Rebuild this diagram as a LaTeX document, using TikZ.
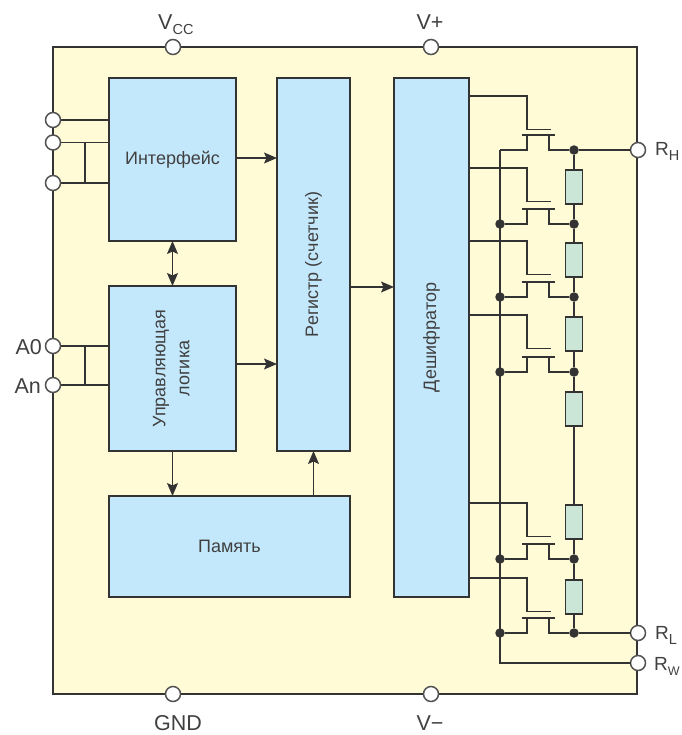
\documentclass[tikz,border=0pt]{standalone}
\usepackage{fontspec}
\setmainfont{Liberation Sans}
\usetikzlibrary{arrows.meta}
\definecolor{bodyc}{HTML}{FFFBD6}
\definecolor{blockc}{HTML}{C4E8FB}
\definecolor{resc}{HTML}{CBE5D6}
\definecolor{linec}{HTML}{333333}
\definecolor{textc}{HTML}{404040}
\tikzset{
  wire/.style={draw=linec,line width=1.3pt},
  flow/.style={wire,-{Stealth[length=13pt,width=11pt,inset=2.5pt]}},
  dflow/.style={wire,{Stealth[length=13pt,width=11pt,inset=2.5pt]}-{Stealth[length=13pt,width=11pt,inset=2.5pt]}},
  block/.style={draw=linec,line width=1.5pt,fill=blockc,inner sep=0pt,outer sep=0pt,font=\fontsize{18}{24}\selectfont,text=textc,align=center},
  pin/.style={circle,draw=linec!85,line width=1.5pt,fill=white,minimum size=15pt,inner sep=0pt,outer sep=0pt},
  junc/.style={circle,fill=linec,minimum size=9.5pt,inner sep=0pt,outer sep=0pt},
  res/.style={draw=linec,line width=1.4pt,fill=resc,minimum width=17.5pt,minimum height=34pt,inner sep=0pt,outer sep=0pt},
  lbl/.style={font=\fontsize{21.5}{24}\selectfont,text=textc,inner sep=0pt},
  rlbl/.style={font=\fontsize{19}{22}\selectfont,text=textc,inner sep=0pt},
}
\newcommand{\Sb}[2][14.5]{\raisebox{-5pt}{\fontsize{#1}{16}\selectfont #2}}
\begin{document}
\begin{tikzpicture}[x=1pt,y=-1pt]
\useasboundingbox (0,0) rectangle (681,735);
\node[draw=linec,line width=1.5pt,fill=bodyc,minimum width=584pt,minimum height=647pt,inner sep=0pt,outer sep=0pt] (chip) at (345,370.5) {};
% blocks
\node[block,minimum width=127pt,minimum height=163pt] (iface) at (172.5,159.5) {Интерфейс};
\node[block,minimum width=127pt,minimum height=165pt] (logic) at (172.5,368.5) {\rotatebox{90}{\begin{tabular}{@{}c@{}}Управляющая\\логика\end{tabular}}};
\node[block,minimum width=73pt,minimum height=373pt] (reg) at (313.5,264.5) {\rotatebox{90}{Регистр (счетчик)}};
\node[block,minimum width=75pt,minimum height=519pt] (dec) at (431.5,337.5) {\rotatebox{90}{Дешифратор}};
\node[block,minimum width=241pt,minimum height=101pt] (mem) at (229.5,546.5) {Память};
% block arrows
\draw[flow] (iface.east |- 0,158) -- (reg.west |- 0,158);
\draw[flow] (logic.east |- 0,364) -- (reg.west |- 0,364);
\draw[flow] (reg.east |- 0,287) -- (dec.west |- 0,287);
\draw[dflow] (iface.south) -- (logic.north);
\draw[flow] (logic.south) -- (logic.south |- mem.north);
\draw[flow] (reg.south |- mem.north) -- (reg.south);
% left pins
\coordinate (jA) at (85,142.5);
\coordinate (jB) at (85,183);
\coordinate (jC) at (85,346);
\coordinate (jD) at (85,385);
\draw[wire] (53,120) -- (iface.west |- 0,120);
\draw[wire] (53,142.5) -- (iface.west |- 0,142.5);
\draw[wire] (53,183) -- (iface.west |- 0,183);
\draw[wire] (jA) -- (jB);
\draw[wire] (53,346) -- (logic.west |- 0,346);
\draw[wire] (53,385) -- (logic.west |- 0,385);
\draw[wire] (jC) -- (jD);
\node[pin] (p1) at (53,120) {};
\node[pin] (p2) at (53,142.5) {};
\node[pin] (p3) at (53,183) {};
\node[pin] (pA0) at (53,346) {};
\node[pin] (pAn) at (53,385) {};
\node[lbl,anchor=base east] (lA0) at (42,354) {A0};
\node[lbl,anchor=base east] (lAn) at (41,393) {An};
% top and bottom pins
\node[pin] (pVcc) at (173,47) {};
\node[pin] (pVp) at (431,47) {};
\node[pin] (pGnd) at (173,694) {};
\node[pin] (pVm) at (431,694) {};
\node[lbl,anchor=base west] (lVcc) at (158,30) {V\Sb{CC}};
\node[lbl,anchor=base] (lVp) at (430,30) {V+};
\node[lbl,anchor=base] (lGnd) at (178,730) {GND};
\node[lbl,anchor=base] (lVm) at (430,730) {V−};
% resistor string
\node[res] (r1) at (574,187) {};
\node[res] (r2) at (574,260) {};
\node[res] (r3) at (574,334) {};
\node[res] (r4) at (574,409) {};
\node[res] (r5) at (574,522) {};
\node[res] (r6) at (574,597) {};
\node[pin] (pRH) at (638,150) {};
\node[pin] (pRL) at (638,633) {};
\node[pin] (pRW) at (638,663) {};
\node[rlbl,anchor=base west] (lRH) at (655,156) {R\Sb{H}};
\node[rlbl,anchor=base west] (lRL) at (655,639) {R\Sb{L}};
\node[rlbl,anchor=base west] (lRW) at (654,670) {R\Sb[12.5]{W}};
% junctions
\foreach \n/\y in {1/224,2/297,3/372,4/559,5/633}{
  \node[junc] (bl\n) at (500,\y) {};
  \node[junc] (br\n) at (574,\y) {};
}
\node[junc] (br0) at (574,150) {};
\coordinate (bl0) at (500,150);
\coordinate (blw) at (500,663);
% bus and string wires
\draw[wire] (bl0) -- (blw) -- (pRW.west);
\draw[wire] (br0) -- (pRH.west);
\draw[wire] (br5) -- (pRL.west);
\draw[wire] (br0) -- (r1.north);
\draw[wire] (r1.south) -- (br1) -- (r2.north);
\draw[wire] (r2.south) -- (br2) -- (r3.north);
\draw[wire] (r3.south) -- (br3) -- (r4.north);
\draw[wire] (r4.south) -- (r5.north);
\draw[wire] (r5.south) -- (br4) -- (r6.north);
\draw[wire] (r6.south) -- (br5);
% transistors: gate wire y, source y, left and right terminals
\foreach \g/\s/\l/\r in {96/150/bl0/br0,168/224/bl1/br1,241/297/bl2/br2,315/372/bl3/br3,503/559/bl4/br4,578/633/bl5/br5}{
  \draw[wire] (dec.east |- 0,\g) -| (527,\g+33.5) -- (551,\g+33.5);
  \draw[wire] (522,\s-15) -- (555,\s-15);
  \draw[wire] (\l) -| (527,\s-15);
  \draw[wire] (\r) -| (549,\s-15);
}
\end{tikzpicture}
\end{document}
